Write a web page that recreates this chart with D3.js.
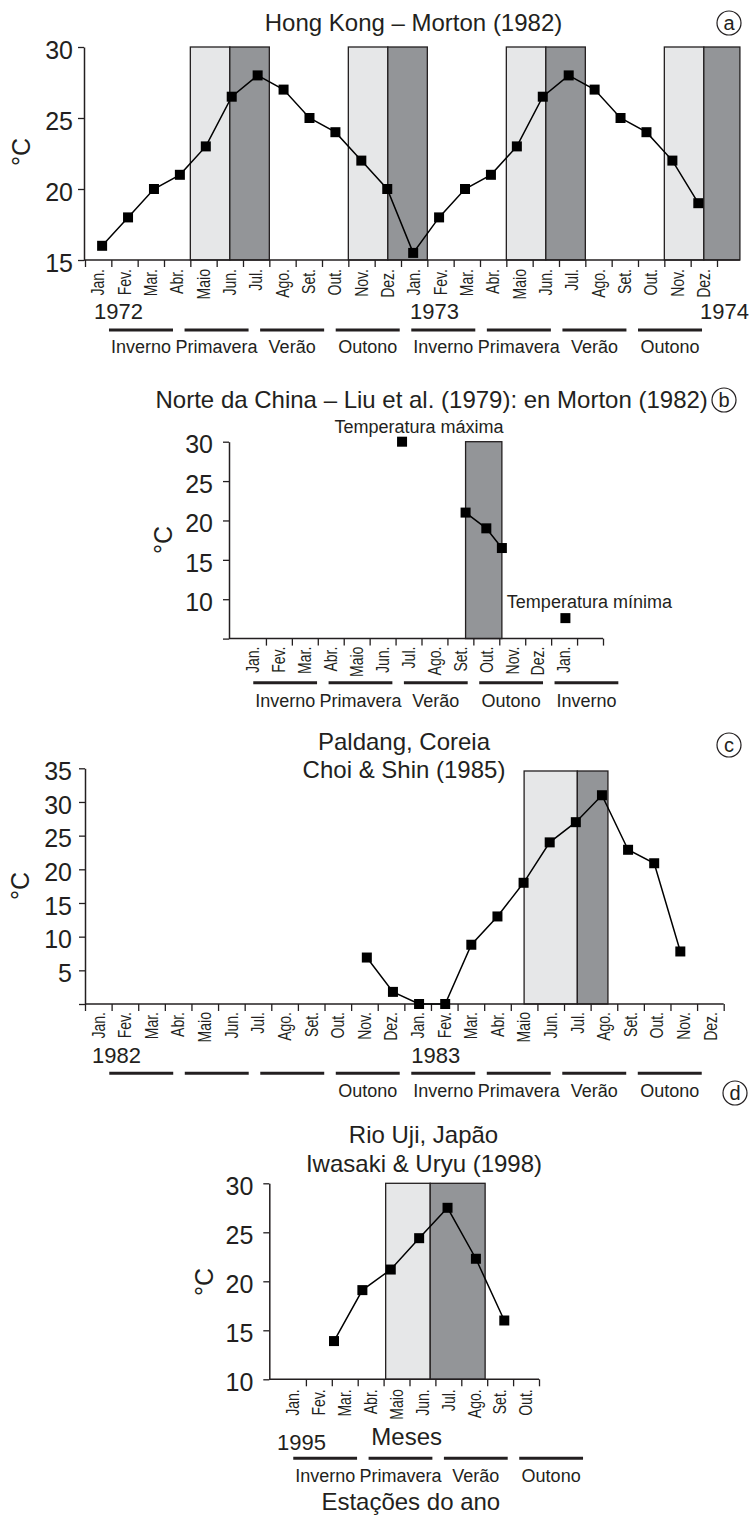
<!DOCTYPE html>
<html>
<head>
<meta charset="utf-8">
<script src="https://cdn.jsdelivr.net/npm/d3@7"></script>
<style>
  body { margin: 0; background: #fff; }
  svg { display: block; }
  text { font-family: "Liberation Sans", Arial, Helvetica, sans-serif; fill: #231f20; }
</style>
</head>
<body>
<svg id="chart" width="752" height="1515"></svg>
<script>
// ---- data -------------------------------------------------------------
const MONTHS = ["Jan.", "Fev.", "Mar.", "Abr.", "Maio", "Jun.", "Jul.", "Ago.", "Set.", "Out.", "Nov.", "Dez."];

// (a) Hong Kong – monthly mean temperature, Jan 1972 .. Dez 1973
const hkMonths = [0, 1, 2, 3, 4, 5, 6, 7, 8, 9, 10, 11, 12, 13, 14, 15, 16, 17, 18, 19, 20, 21, 22, 23];
const hkTemp = [16, 18, 20, 21, 23, 26.5, 28, 27, 25, 24, 22, 20, 15.5, 18, 20, 21, 23, 26.5, 28, 27, 25, 24, 22, 19];
const hkLight = [[4, 5.5], [10, 11.5], [16, 17.5], [22, 23.5]];
const hkDark = [[5.5, 7], [11.5, 13], [17.5, 19], [23.5, 24.87]];
const hkYears = [["1972", 0], ["1973", 12], ["1974", 24]];
const hkSeasons = ["Inverno", "Primavera", "Verão", "Outono", "Inverno", "Primavera", "Verão", "Outono"];
const hkYTicks = [15, 20, 25, 30];

// (b) Norte da China
const chinaMonths = [8.7, 9.5, 10.1];
const chinaTemp = [21, 19, 16.5];
const chinaMax = [6.25, 30];
const chinaMin = [12.55, 7.6];
const chinaDark = [[8.7, 10.1]];
const chinaLabels = [...MONTHS, "Jan."];
const chinaSeasons = ["Inverno", "Primavera", "Verão", "Outono", "Inverno"];
const chinaYTicks = [5, 10, 15, 20, 25, 30];

// (c) Paldang, Coreia – Nov 1982 .. Nov 1983
const paldangMonths = [10, 11, 12, 13, 14, 15, 16, 17, 18, 19, 20, 21, 22];
const paldangTemp = [6.9, 1.8, 0, 0, 8.8, 13, 18, 24, 27, 31, 22.9, 20.9, 7.8];
const paldangLight = [[16.5, 18.5]];
const paldangDark = [[18.5, 19.65]];
const paldangYears = [["1982", 0], ["1983", 12]];
const paldangSeasons = ["", "", "", "Outono", "Inverno", "Primavera", "Verão", "Outono"];
const paldangYTicks = [0, 5, 10, 15, 20, 25, 30, 35];

// (d) Rio Uji, Japão – 1995
const ujiMonths = [2, 3, 4, 5, 6, 7, 8];
const ujiTemp = [13.9, 19.1, 21.2, 24.4, 27.5, 22.3, 16.0];
const ujiLight = [[4.08, 5.8]];
const ujiDark = [[5.8, 7.92]];
const ujiYears = [["1995", 0]];
const ujiSeasons = ["Inverno", "Primavera", "Verão", "Outono"];
const ujiYTicks = [10, 15, 20, 25, 30];

// ---- drawing ----------------------------------------------------------
const INK = "#231f20", LIGHT = "#e6e7e8", DARK = "#939598";
const svg = d3.select("#chart");

function panel(cfg) {
  const g = svg.append("g");
  const x = d3.scaleLinear().domain(cfg.xDomain).range(cfg.xRange);
  const y = d3.scaleLinear().domain(cfg.yDomain).range(cfg.yRange);
  const yBase = y(cfg.yDomain[0]);

  // shaded season blocks
  const blocks = [
    ...cfg.light.map(r => ({ r, fill: LIGHT })),
    ...cfg.dark.map(r => ({ r, fill: DARK }))
  ];
  g.selectAll("rect.block").data(blocks).join("rect")
    .attr("class", "block")
    .attr("x", d => x(d.r[0]))
    .attr("width", d => x(d.r[1]) - x(d.r[0]))
    .attr("y", y(cfg.blockTop))
    .attr("height", yBase - y(cfg.blockTop))
    .attr("fill", d => d.fill)
    .attr("stroke", INK)
    .attr("stroke-width", 1.3);

  // x axis: baseline + month boundary ticks
  g.append("line")
    .attr("x1", cfg.axisX).attr("x2", x(cfg.xEnd))
    .attr("y1", yBase).attr("y2", yBase)
    .attr("stroke", INK).attr("stroke-width", 1.5);
  const xAxis = g.append("g").attr("transform", `translate(0,${yBase})`)
    .call(d3.axisBottom(x).tickValues(cfg.xTicks).tickFormat("").tickSize(7).tickSizeOuter(0));
  xAxis.select(".domain").remove();
  xAxis.selectAll(".tick line").attr("stroke", INK).attr("stroke-width", 1.3);

  // month names (narrow, rotated)
  g.selectAll("text.month").data(cfg.monthLabels).join("text")
    .attr("class", "month")
    .attr("transform", (d, i) => `translate(${x(i + 0.5)},${yBase + cfg.labelGap}) rotate(-90) scale(0.78,1)`)
    .attr("text-anchor", "end")
    .attr("dy", "0.35em")
    .style("font-size", "18px")
    .text(d => d);

  // y axis
  const yAxis = g.append("g").attr("transform", `translate(${cfg.axisX},0)`)
    .call(d3.axisLeft(y).tickValues(cfg.yTicks)
      .tickFormat(d => (cfg.hideFirst && d === cfg.yDomain[0]) ? "" : d)
      .tickSize(6).tickPadding(cfg.tickPad).tickSizeOuter(0));
  yAxis.attr("font-family", null).attr("font-size", null);
  yAxis.select(".domain").attr("stroke", INK).attr("stroke-width", 1.5);
  yAxis.selectAll(".tick line").attr("stroke", INK).attr("stroke-width", 1.3);
  yAxis.selectAll(".tick text").attr("dy", "0.45em").attr("fill", INK).style("font-size", "25px");

  // unit label
  g.append("text")
    .attr("transform", `translate(${cfg.unitPos[0]},${cfg.unitPos[1]}) rotate(-90)`)
    .attr("text-anchor", "middle").attr("dy", "0.35em")
    .style("font-size", "25px")
    .text("°C");

  // temperature series
  const px = d3.scaleLinear().domain(cfg.ptDomain).range(cfg.ptMonths.map(x));
  const pts = cfg.months.map((m, i) => ({ m, t: cfg.temps[i] }));
  g.append("path").datum(pts)
    .attr("d", d3.line().x(d => px(d.m)).y(d => y(d.t)))
    .attr("fill", "none").attr("stroke", "#000").attr("stroke-width", 1.5);
  g.selectAll("rect.pt").data(pts).join("rect")
    .attr("class", "pt")
    .attr("x", d => px(d.m) - 5).attr("y", d => y(d.t) - 5)
    .attr("width", 10).attr("height", 10).attr("fill", "#000");

  // years
  (cfg.years || []).forEach(([label, m]) => {
    const t = g.append("text")
      .attr("x", x(m) + cfg.yearDx).attr("y", cfg.yearY)
      .style("font-size", "22px").text(label);
    const len = t.node().getComputedTextLength();
    if (x(m) + cfg.yearDx + len > 750) t.attr("x", 749).attr("text-anchor", "end");
  });

  // season bars
  const s = d3.scaleBand().domain(d3.range(cfg.seasons.length))
    .range(cfg.seasonRange).paddingInner(0.153).paddingOuter(0.0765);
  g.selectAll("line.season").data(cfg.seasons).join("line")
    .attr("class", "season")
    .attr("x1", (d, i) => s(i)).attr("x2", (d, i) => s(i) + s.bandwidth())
    .attr("y1", cfg.seasonY).attr("y2", cfg.seasonY)
    .attr("stroke", INK).attr("stroke-width", 3);
  g.selectAll("text.season").data(cfg.seasons).join("text")
    .attr("class", "season")
    .attr("x", (d, i) => s(i) + s.bandwidth() / 2)
    .attr("y", cfg.seasonTextY)
    .attr("text-anchor", "middle")
    .style("font-size", "18px")
    .text(d => d);

  // titles
  cfg.title.forEach(([txt, cx, by]) => {
    g.append("text").attr("x", cx).attr("y", by).attr("text-anchor", "middle")
      .style("font-size", "24px").text(txt);
  });

  // panel letter
  const [lx, ly, letter] = cfg.letter;
  g.append("circle").attr("cx", lx).attr("cy", ly).attr("r", 12)
    .attr("fill", "none").attr("stroke", INK).attr("stroke-width", 1.2);
  g.append("text").attr("x", lx).attr("y", ly).attr("dy", "0.33em")
    .attr("text-anchor", "middle").style("font-size", "20px").text(letter);

  return { g, x, y };
}

// (a)
panel({
  axisX: 84, xDomain: [0, 24], xRange: [85, 717], xEnd: 24.87, xTicks: d3.range(0, 25),
  yDomain: [15, 30], yRange: [260, 47], yTicks: hkYTicks, tickPad: 5,
  blockTop: 30, light: hkLight, dark: hkDark,
  monthLabels: [...MONTHS, ...MONTHS], labelGap: 9,
  months: hkMonths, temps: hkTemp, ptDomain: [0, 23], ptMonths: [0.65, 23.29],
  years: hkYears, yearDx: 9, yearY: 319,
  seasons: hkSeasons, seasonRange: [103.2, 707.8], seasonY: 330, seasonTextY: 353,
  unitPos: [21, 152],
  title: [["Hong Kong – Morton (1982)", 413.5, 31]],
  letter: [729, 23, "a"]
});

// (b)
const b = panel({
  axisX: 229, xDomain: [0, 14], xRange: [240, 603], xEnd: 14, xTicks: d3.range(1, 15),
  yDomain: [5, 30], yRange: [638.6, 441.7], yTicks: chinaYTicks, tickPad: 10, hideFirst: true,
  blockTop: 30, light: [], dark: chinaDark,
  monthLabels: chinaLabels, labelGap: 8,
  months: chinaMonths, temps: chinaTemp, ptDomain: [0, 14], ptMonths: [0, 14],
  seasons: chinaSeasons, seasonRange: [247.5, 624.1], seasonY: 682.7, seasonTextY: 706.7,
  unitPos: [163, 540],
  title: [["Norte da China – Liu et al. (1979): en Morton (1982)", 431.7, 408]],
  letter: [724, 400, "b"]
});

// isolated extremes with their labels
[[chinaMax, "Temperatura máxima", 17, -9], [chinaMin, "Temperatura mínima", 24, -10]]
  .forEach(([[m, t], label, dx, dy]) => {
    b.g.append("rect")
      .attr("x", b.x(m) - 5).attr("y", b.y(t) - 5)
      .attr("width", 10).attr("height", 10).attr("fill", "#000");
    b.g.append("text")
      .attr("x", b.x(m) + dx).attr("y", b.y(t) + dy)
      .attr("text-anchor", "middle").style("font-size", "18px").text(label);
  });

// (c)
panel({
  axisX: 85, xDomain: [0, 24], xRange: [85, 723.7], xEnd: 24, xTicks: d3.range(0, 25),
  yDomain: [0, 35], yRange: [1004, 768.3], yTicks: paldangYTicks, tickPad: 7, hideFirst: true,
  blockTop: 34.6, light: paldangLight, dark: paldangDark,
  monthLabels: [...MONTHS, ...MONTHS], labelGap: 8,
  months: paldangMonths, temps: paldangTemp, ptDomain: [10, 22], ptMonths: [10.59, 22.37],
  years: paldangYears, yearDx: 7, yearY: 1063,
  seasons: paldangSeasons, seasonRange: [103.5, 707.5], seasonY: 1073.3, seasonTextY: 1097,
  unitPos: [20, 886],
  title: [["Paldang, Coreia", 404, 750], ["Choi & Shin (1985)", 404, 778]],
  letter: [729, 745, "c"]
});

// (d)
const d = panel({
  axisX: 269.3, xDomain: [0, 10], xRange: [280, 539], xEnd: 10, xTicks: d3.range(1, 11),
  yDomain: [10, 30], yRange: [1379.3, 1183.3], yTicks: ujiYTicks, tickPad: 10,
  blockTop: 30, light: ujiLight, dark: ujiDark,
  monthLabels: MONTHS.slice(0, 10), labelGap: 10,
  months: ujiMonths, temps: ujiTemp, ptDomain: [2, 8], ptMonths: [2.085, 8.66],
  years: ujiYears, yearDx: -3, yearY: 1450,
  seasons: ujiSeasons, seasonRange: [287.5, 588.8], seasonY: 1458.3, seasonTextY: 1481.7,
  unitPos: [204, 1282],
  title: [["Rio Uji, Japão", 423.5, 1143], ["Iwasaki & Uryu (1998)", 424, 1172]],
  letter: [735, 1093, "d"]
});

d.g.append("text").attr("x", 406.7).attr("y", 1445).attr("text-anchor", "middle")
  .style("font-size", "24px").text("Meses");
d.g.append("text").attr("x", 410.8).attr("y", 1510).attr("text-anchor", "middle")
  .style("font-size", "24px").text("Estações do ano");
</script>
</body>
</html>
